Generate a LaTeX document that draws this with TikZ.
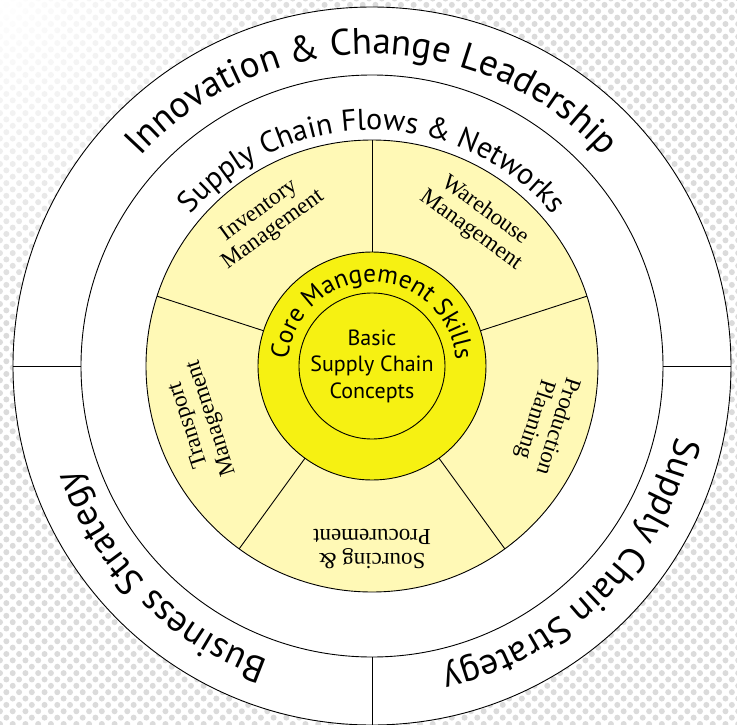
\documentclass[tikz,border=0pt]{standalone}
\usepackage{fontspec}
\setmainfont{Liberation Serif}
\newfontfamily\sansfam{PT Sans}
\usetikzlibrary{decorations.text,patterns.meta,fadings}

\definecolor{paleyellow}{RGB}{255,249,182}
\definecolor{coreyellow}{RGB}{246,241,18}

\newcommand\ringfont{\sansfam\fontsize{37}{40}\selectfont}
\newcommand\flowfont{\sansfam\fontsize{30}{32}\selectfont}
\newcommand\corefont{\sansfam\fontsize{25.5}{27}\selectfont}
\newcommand\sectorfont{\fontsize{23}{24}\selectfont}
\newcommand\basicfont{\sansfam\fontsize{22}{26.5}\selectfont}

\tikzfading[name=cornerfade, inner color=transparent!0, outer color=transparent!100]

\begin{document}
\begin{tikzpicture}[x=1pt,y=1pt,line width=0.9pt,
        ring text/.style={decorate,decoration={text along path,text align=center,text={#1}}},
        sector/.style={align=center,font=\sectorfont,inner sep=0pt}]
    \useasboundingbox (-372,-358) rectangle (365,366);
    \fill[pattern={Dots[distance=9pt,radius=3pt,angle=45]},pattern color=black!14] (-372,-358) rectangle (365,366);
    \fill[white,path fading=cornerfade] (-372,366) circle (330);

    \draw[fill=white] (0,0) circle (359);
    \draw[fill=white] (0,0) circle (291);
    \draw[fill=paleyellow] (0,0) circle (226);
    \draw (90:114) -- (90:226);
    \draw (18:114) -- (18:226);
    \draw (-54:114) -- (-54:226);
    \draw (-126:114) -- (-126:226);
    \draw (162:114) -- (162:226);
    \draw[fill=coreyellow] (0,0) circle (114);
    \draw (0,0) circle (73);
    \draw (0:291) -- (0:359);
    \draw (180:291) -- (180:359);
    \draw (270:291) -- (270:359);

    \path[ring text={|\ringfont|Innovation {\&} Change Leadership}] (170:312) arc[start angle=170,end angle=10,radius=312];
    \path[ring text={|\ringfont|Business Strategy}] (265:312) arc[start angle=265,end angle=185,radius=312];
    \path[ring text={|\ringfont|Supply Chain Strategy}] (355:312) arc[start angle=355,end angle=275,radius=312];
    \path[ring text={|\flowfont|Supply Chain Flows {\&} Networks}] (170:236) arc[start angle=170,end angle=10,radius=236];
    \path[ring text={|\corefont|Core Mangement Skills}] (180:84) arc[start angle=180,end angle=0,radius=84];

    \node[align=center,font=\basicfont] (0) at (0,0) {Basic\\Supply Chain\\Concepts};
    \node[sector,rotate=36] (1) at (126:180) {Inventory\\Management};
    \node[sector,rotate=-36] (2) at (54:180) {Warehouse\\Management};
    \node[sector,rotate=-108] (3) at (-18:183) {Production\\Planning};
    \node[sector,rotate=180] (4) at (-90:183) {Sourcing {\&}\\Procurement};
    \node[sector,rotate=108] (5) at (-162:180) {Transport\\Management};
\end{tikzpicture}
\end{document}
